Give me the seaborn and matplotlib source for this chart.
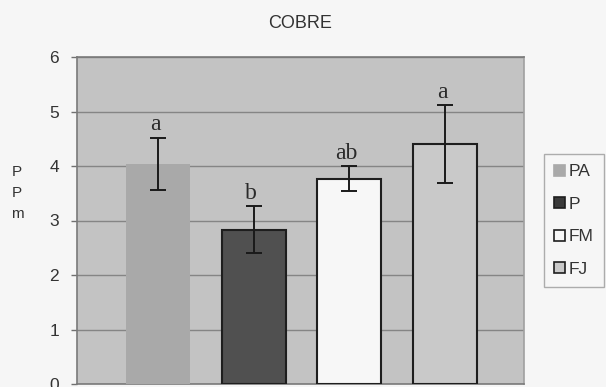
import matplotlib

matplotlib.use("Agg")
import matplotlib.pyplot as plt
import seaborn as sns
from matplotlib.patches import Patch

categories = ["PA", "P", "FM", "FJ"]
means = [4.04, 2.83, 3.77, 4.40]
errors = [0.48, 0.43, 0.23, 0.72]
letters = ["a", "b", "ab", "a"]
y_ticks = [0, 1, 2, 3, 4, 5, 6]

bar_colors = ["#a9a9a9", "#505050", "#f7f7f7", "#c9c9c9"]
edge_colors = ["none", "#1e1e1e", "#1e1e1e", "#1e1e1e"]

sns.set_style("white")
plt.rcParams["font.family"] = ["Liberation Sans", "DejaVu Sans"]

fig = plt.figure(figsize=(6.06, 3.87), dpi=100, facecolor="#f6f6f6")
ax = fig.add_axes([77 / 606, 3 / 387, 447 / 606, 327 / 387])
ax.set_facecolor("#c3c3c3")

sns.barplot(
    x=categories,
    y=means,
    hue=categories,
    palette=bar_colors,
    width=0.67,
    legend=False,
    errorbar=None,
    ax=ax,
)
for patch, ec in zip(ax.patches, edge_colors):
    patch.set_edgecolor(ec)
    patch.set_linewidth(1.5 if ec != "none" else 0)
    patch.set_zorder(3)

xs = list(range(len(categories)))
ax.errorbar(
    xs, means, yerr=errors, fmt="none", ecolor="#1a1a1a",
    elinewidth=1.4, capsize=6, capthick=1.4, zorder=4,
)
for x, m, e, lab in zip(xs, means, errors, letters):
    ax.text(x - 0.03, m + e + 0.04, lab, ha="center", va="bottom",
            fontsize=17, color="#2a2a2a", family=["Liberation Serif", "DejaVu Serif"])

ax.set_xlim(-0.846, 3.825)
ax.set_ylim(0, 6)
ax.set_yticks(y_ticks)
ax.set_xticks([])
ax.set_xlabel("")
ax.yaxis.grid(True, color="#858585", linewidth=1.0, zorder=0)
ax.set_axisbelow(True)
ax.tick_params(axis="y", left=True, length=4, width=1, color="#707070",
               labelsize=12.5, labelcolor="#333333", pad=9)
for side, sp in ax.spines.items():
    sp.set_visible(True)
    sp.set_color("#7a7a7a")
    sp.set_linewidth(1.2)
ax.spines["right"].set_color("#a0a0a0")

fig.text(300 / 606, 1 - 24 / 387, "COBRE", ha="center", va="center",
         fontsize=13, color="#333333")
fig.text(17 / 606, 1 - 193 / 387, "P\nP\nm", ha="center", va="center",
         fontsize=11, color="#333333", linespacing=1.6)

handles = [Patch(facecolor=c, edgecolor=("#1e1e1e" if ec != "none" else c), linewidth=1.2)
           for c, ec in zip(bar_colors, edge_colors)]
handles[1] = Patch(facecolor="#3a3a3a", edgecolor="#1e1e1e", linewidth=1.2)
leg = fig.legend(
    handles, categories, loc="upper left", bbox_to_anchor=(544 / 606, 1 - 154 / 387),
    frameon=True, fancybox=False, fontsize=12.5, handlelength=0.6, handleheight=0.6,
    handletextpad=0.2, labelspacing=1.0, borderpad=0.6, borderaxespad=0,
    labelcolor="#333333",
)
leg.get_frame().set_edgecolor("#9a9a9a")
leg.get_frame().set_facecolor("#f6f6f6")
leg.get_frame().set_linewidth(1.0)

fig.savefig("out.png", dpi=100, facecolor=fig.get_facecolor())
